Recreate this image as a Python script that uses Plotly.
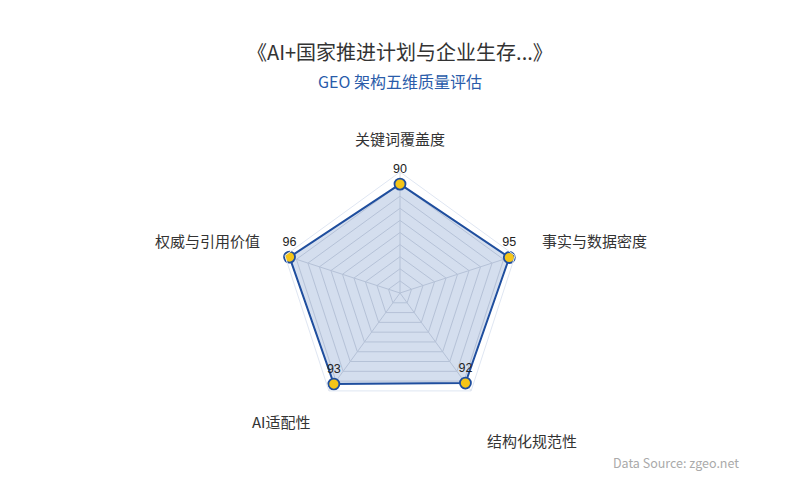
import plotly.graph_objects as go

# ---- data ----
categories = ["关键词覆盖度", "事实与数据密度", "结构化规范性", "AI适配性", "权威与引用价值"]
values = [90, 95, 92, 93, 96]

title_text = "《AI+国家推进计划与企业生存...》"
subtitle_text = "GEO 架构五维质量评估"
source_text = "Data Source: zgeo.net"

# ---- style / layout constants ----
W, H = 800, 500
FONT = "Noto Sans CJK SC, Noto Sans, sans-serif"
BLUE = "#2a5caa"
LINE = "#1f4e9e"
YELLOW = "#f5c518"
CX, CY, R = 400, 293, 121  # polar centre and radius in pixels

# axis-name anchor points (pixels) and anchors
label_layout = [
    (400, 138, "center"),
    (540, 240, "left"),
    (485, 440, "left"),
    (313, 421, "right"),
    (262, 240, "right"),
]

closed_theta = categories + categories[:1]
closed_r = values + values[:1]

fig = go.Figure()
fig.add_trace(go.Scatterpolar(
    r=closed_r, theta=closed_theta,
    mode="lines",
    fill="toself",
    fillcolor="rgba(42,92,170,0.2)",
    line=dict(color=LINE, width=2),
    hoverinfo="skip",
    showlegend=False,
))
fig.add_trace(go.Scatterpolar(
    r=values, theta=categories,
    mode="markers+text",
    marker=dict(size=11, color=YELLOW, line=dict(color=LINE, width=1.8)),
    text=[str(v) for v in values],
    textposition="top center",
    textfont=dict(family="Liberation Sans, Arial, sans-serif", size=12.5, color="#222"),
    showlegend=False,
))

px = lambda x: x / W
py = lambda y: 1 - y / H

annotations = []
for name, (x, y, anchor) in zip(categories, label_layout):
    annotations.append(dict(
        text=name, x=px(x), y=py(y), xref="paper", yref="paper",
        xanchor=anchor, yanchor="middle", showarrow=False,
        font=dict(family=FONT, size=15, color="#333"),
    ))
annotations += [
    dict(text=title_text, x=0.5, y=py(52), xref="paper", yref="paper",
         xanchor="center", yanchor="middle", showarrow=False,
         font=dict(family=FONT, size=20, color="#333")),
    dict(text=subtitle_text, x=0.5, y=py(81), xref="paper", yref="paper",
         xanchor="center", yanchor="middle", showarrow=False,
         font=dict(family=FONT, size=16, color=BLUE)),
    dict(text=source_text, x=px(741), y=py(462), xref="paper", yref="paper",
         xanchor="right", yanchor="middle", showarrow=False,
         font=dict(family=FONT, size=12.5, color="#aaa")),
]

fig.update_layout(
    width=W, height=H,
    margin=dict(l=0, r=0, t=0, b=0),
    paper_bgcolor="white",
    plot_bgcolor="white",
    annotations=annotations,
    polar=dict(
        domain=dict(x=[(CX - R) / W, (CX + R) / W], y=[1 - (CY + R) / H, 1 - (CY - R) / H]),
        bgcolor="white",
        gridshape="linear",
        radialaxis=dict(range=[0, 100], dtick=10, showticklabels=False, ticks="",
                        showline=False, gridcolor="#d9dce3", gridwidth=1),
        angularaxis=dict(rotation=90, direction="clockwise", showticklabels=False, ticks="",
                         showline=True, linecolor="#dfe6f2", linewidth=1,
                         gridcolor="#d9dce3"),
    ),
)

fig.write_html(
    "out.html",
    config={"displayModeBar": False},
    post_script="document.body.style.margin='0';document.body.style.overflow='hidden';",
)
